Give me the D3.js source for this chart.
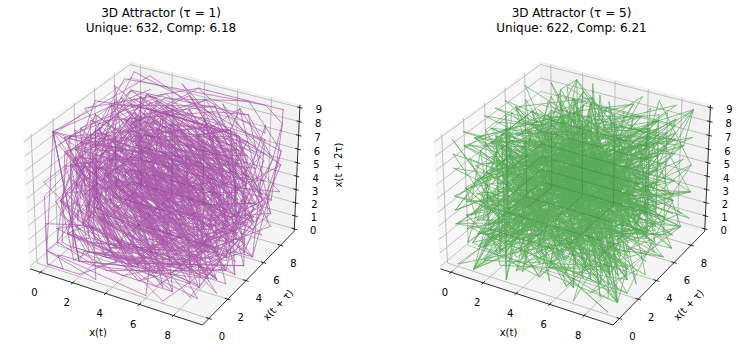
<!DOCTYPE html>
<html>
<head>
<meta charset="utf-8">
<script src="https://cdn.jsdelivr.net/npm/d3@7"></script>
<style>
body { margin: 0; background: #fff; }
text { font-family: "DejaVu Sans", sans-serif; fill: #000; }
</style>
</head>
<body>
<svg id="chart" width="740" height="352"></svg>
<script>
// digit series, x(t)
var digits = [
3,1,4,1,5,9,2,6,5,3,5,8,9,7,9,3,2,3,8,4,6,2,6,4,3,3,8,3,2,7,9,5,0,2,8,8,4,1,9,7,1,6,9,3,9,9,3,7,5,1,
0,5,8,2,0,9,7,4,9,4,4,5,9,2,3,0,7,8,1,6,4,0,6,2,8,6,2,0,8,9,9,8,6,2,8,0,3,4,8,2,5,3,4,2,1,1,7,0,6,7,
9,8,2,1,4,8,0,8,6,5,1,3,2,8,2,3,0,6,6,4,7,0,9,3,8,4,4,6,0,9,5,5,0,5,8,2,2,3,1,7,2,5,3,5,9,4,0,8,1,2,
8,4,8,1,1,1,7,4,5,0,2,8,4,1,0,2,7,0,1,9,3,8,5,2,1,1,0,5,5,5,9,6,4,4,6,2,2,9,4,8,9,5,4,9,3,0,3,8,1,9,
6,4,4,2,8,8,1,0,9,7,5,6,6,5,9,3,3,4,4,6,1,2,8,4,7,5,6,4,8,2,3,3,7,8,6,7,8,3,1,6,5,2,7,1,2,0,1,9,0,9,
1,4,5,6,4,8,5,6,6,9,2,3,4,6,0,3,4,8,6,1,0,4,5,4,3,2,6,6,4,8,2,1,3,3,9,3,6,0,7,2,6,0,2,4,9,1,4,1,2,7,
3,7,2,4,5,8,7,0,0,6,6,0,6,3,1,5,5,8,8,1,7,4,8,8,1,5,2,0,9,2,0,9,6,2,8,2,9,2,5,4,0,9,1,7,1,5,3,6,4,3,
6,7,8,9,2,5,9,0,3,6,0,0,1,1,3,3,0,5,3,0,5,4,8,8,2,0,4,6,6,5,2,1,3,8,4,1,4,6,9,5,1,9,4,1,5,1,1,6,0,9,
4,3,3,0,5,7,2,7,0,3,6,5,7,5,9,5,9,1,9,5,3,0,9,2,1,8,6,1,1,7,3,8,1,9,3,2,6,1,1,7,9,3,1,0,5,1,1,8,5,4,
8,0,7,4,4,6,2,3,7,9,9,6,2,7,4,9,5,6,7,3,5,1,8,8,5,7,5,2,7,2,4,8,9,1,2,2,7,9,3,8,1,8,3,0,1,1,9,4,9,1,
2,9,8,3,3,6,7,3,3,6,2,4,4,0,6,5,6,6,4,3,0,8,6,0,2,1,3,9,4,9,4,6,3,9,5,2,2,4,7,3,7,1,9,0,7,0,2,1,7,9,
8,6,0,9,4,3,7,0,2,7,7,0,5,3,9,2,1,7,1,7,6,2,9,3,1,7,6,7,5,2,3,8,4,6,7,4,8,1,8,4,6,7,6,6,9,4,0,5,1,3,
2,0,0,0,5,6,8,1,2,7,1,4,5,2,6,3,5,6,0,8,2,7,7,8,5,7,7,1,3,4,2,7,5,7,7,8,9,6,0,9,1,7,3,6,3,7,1,7,8,7,
2,1,4,6,8,4,4,0,9,0,1,2,2,4,9,5,3,4,3,0,1,4,6,5,4,9,5,8,5,3,7,1,0,5,0,7,9,2,2,7,9,6,8,9,2,5,8,9,2,3,
5,4,2,0,1,9,9,5,6,1,1,2,1,2,9,0,2,1,9,6,0,8,6,4,0,3,4,4,1,8,1,5,9,8,1,3,6,2,9,7,7,4,7,7,1,3,0,9,9,6,
0,5,1,8,7,0,7,2,1,1,3,4,9,9,9,9,9,9,8,3,7,2,9,7,8,0,4,9,9,5,1,0,5,9,7,3,1,7,3,2,8,1,6,0,9,6,3,1,8,5,
9,5,0,2,4,4,5,9,4,5,5,3,4,6,9,0,8,3,0,2,6,4,2,5,2,2,3,0,8,2,5,3,3,4,4,6,8,5,0,3,5,2,6,1,9,3,1,1,8,8,
1,7,1,0,1,0,0,0,3,1,3,7,8,3,8,7,5,2,8,8,6,5,8,7,5,3,3,2,0,8,3,8,1,4,2,0,6,1,7,1,7,7,6,6,9,1,4,7,3,0,
3,5,9,8,2,5,3,4,9,0,4,2,8,7,5,5,4,6,8,7,3,1,1,5,9,5,6,2,8,6,3,8,8,2,3,5,3,7,8,7,5,9,3,7,5,1,9,5,7,7,
8,1,8,5,7,7,8,0,5,3,2,1,7,1,2,2,6,8,0,6,6,1,3,0,0,1,9,2,7,8,7,6,6,1,1,1,9,5,9,0,9,2,1,6,4,2,0,1,9,8
];
var taus = [1, 5];
var uniqueCounts = [632, 622];
var complexities = ["6.18", "6.21"];
var lineColors = ["purple", "green"];
var xyTicks = [0, 2, 4, 6, 8];
var zTicks = [0, 1, 2, 3, 4, 5, 6, 7, 8, 9];

var svg = d3.select("#chart");

// view of the 3d box, same defaults as a mplot3d axes
var elev = 30 * Math.PI / 180;
var azim = -60 * Math.PI / 180;
var dist = 10;
var xyLim = [-0.45, 9.45];
var zLim = [0, 9];	// z has no margin in the reference
var xyPad = (xyLim[1] - xyLim[0]) / 48;	// panes stick out a bit past the limits
var zPad = (zLim[1] - zLim[0]) / 48;
var lo = xyLim[0] - xyPad, hi = xyLim[1] + xyPad;
var zlo = zLim[0] - zPad, zhi = zLim[1] + zPad;
var boxXY = 1.1429, boxZ = 0.8572;

var xWorld = d3.scaleLinear().domain(xyLim).range([0, boxXY]);
var zWorld = d3.scaleLinear().domain(zLim).range([0, boxZ]);

var center = [boxXY / 2, boxXY / 2, boxZ / 2];
var n = [Math.cos(elev) * Math.cos(azim), Math.cos(elev) * Math.sin(azim), Math.sin(elev)];
var right = [-Math.sin(azim), Math.cos(azim), 0];
var up = [n[1] * right[2] - n[2] * right[1], n[2] * right[0] - n[0] * right[2], n[0] * right[1] - n[1] * right[0]];

function project(x, y, z){
	var p = [xWorld(x) - center[0], xWorld(y) - center[1], zWorld(z) - center[2]];
	var depth = dist - d3.sum(p, function(d, i){ return d * n[i]; });
	return [
		d3.sum(p, function(d, i){ return d * right[i]; }) / depth,
		d3.sum(p, function(d, i){ return d * up[i]; }) / depth
	];
}

drawPanel(0, 0);
drawPanel(1, 410.5);

function drawPanel(idx, offset){
	var tau = taus[idx];
	var g = svg.append("g").attr("transform", "translate(" + offset + ",0)");

	// screen scales, pinned on the box corners
	var sx = d3.scaleLinear()
		.domain([project(lo, lo, zlo)[0], project(hi, hi, zhi)[0]])
		.range([30, 300]);
	var sy = d3.scaleLinear()
		.domain([project(hi, lo, zlo)[1], project(lo, hi, zhi)[1]])
		.range([325, 62]);

	var line = d3.line()
		.x(function(d){ var q = project(d[0], d[1], d[2]); return sx(q[0]); })
		.y(function(d){ var q = project(d[0], d[1], d[2]); return sy(q[1]); });
	function pt(x, y, z){
		var q = project(x, y, z);
		return [sx(q[0]), sy(q[1])];
	}

	// panes
	var panes = [
		{ fill: "#f2f2f2", pts: [[lo, lo, zlo], [lo, hi, zlo], [lo, hi, zhi], [lo, lo, zhi]] },
		{ fill: "#e6e6e6", pts: [[lo, hi, zlo], [hi, hi, zlo], [hi, hi, zhi], [lo, hi, zhi]] },
		{ fill: "#ececec", pts: [[lo, lo, zlo], [hi, lo, zlo], [hi, hi, zlo], [lo, hi, zlo]] }
	];
	g.selectAll(".pane").data(panes).enter().append("path")
		.attr("class", "pane")
		.attr("d", function(d){ return line(d.pts) + "Z"; })
		.attr("fill", function(d){ return d.fill; })
		.attr("fill-opacity", 0.5)
		.attr("stroke", function(d){ return d.fill; })
		.attr("stroke-opacity", 0.5);

	// grid
	var gridLines = [];
	xyTicks.forEach(function(t){
		gridLines.push([[t, lo, zlo], [t, hi, zlo], [t, hi, zhi]]);
		gridLines.push([[lo, t, zhi], [lo, t, zlo], [hi, t, zlo]]);
	});
	zTicks.forEach(function(t){
		gridLines.push([[lo, lo, t], [lo, hi, t], [hi, hi, t]]);
	});
	g.selectAll(".grid").data(gridLines).enter().append("path")
		.attr("class", "grid")
		.attr("d", line)
		.attr("fill", "none")
		.attr("stroke", "#b0b0b0")
		.attr("stroke-width", 0.8);

	// axis lines and ticks
	var axisLines = [
		[[lo, lo, zlo], [hi, lo, zlo]],
		[[hi, lo, zlo], [hi, hi, zlo]],
		[[hi, hi, zlo], [hi, hi, zhi]]
	];
	var tickLen = (xyLim[1] - xyLim[0]) / 12 * 0.2;
	xyTicks.forEach(function(t){
		axisLines.push([[t, lo - tickLen, zlo], [t, lo + tickLen, zlo]]);
		axisLines.push([[hi + tickLen, t, zlo], [hi - tickLen, t, zlo]]);
	});
	zTicks.forEach(function(t){
		axisLines.push([[hi + tickLen, hi, t], [hi - tickLen, hi, t]]);
	});
	g.selectAll(".axisline").data(axisLines).enter().append("path")
		.attr("class", "axisline")
		.attr("d", line)
		.attr("fill", "none")
		.attr("stroke", "#000")
		.attr("stroke-width", 0.8);

	// the trajectory, one group with opacity so the alpha does not pile up
	var traj = [];
	for(var t = 0; t + 2 * tau < digits.length; t++){
		traj.push([digits[t], digits[t + tau], digits[t + 2 * tau]]);
	}
	g.append("g")
		.attr("opacity", 0.62)
		.selectAll("path").data(d3.pairs(traj)).enter().append("path")
		.attr("d", line)
		.attr("fill", "none")
		.attr("stroke", lineColors[idx])
		.attr("stroke-width", 0.7)
		.attr("stroke-linecap", "round");

	// tick labels
	function label(p, dx, dy, s){
		g.append("text")
			.attr("x", p[0] + dx)
			.attr("y", p[1] + dy)
			.attr("text-anchor", "middle")
			.attr("dominant-baseline", "central")
			.attr("font-size", 10)
			.text(s);
	}
	xyTicks.forEach(function(t){
		label(pt(t, lo, zlo), -6, 20, t);
		label(pt(hi, t, zlo), 13, 18, t);
	});
	zTicks.forEach(function(t){
		label(pt(hi, hi, t), 19, 2, t);
	});

	// axis labels
	g.append("text")
		.attr("x", 98).attr("y", 332.5)
		.attr("text-anchor", "middle").attr("dominant-baseline", "central")
		.attr("font-size", 10)
		.text("x(t)");
	g.append("text")
		.attr("transform", "translate(278,305) rotate(-46)")
		.attr("text-anchor", "middle").attr("dominant-baseline", "central")
		.attr("font-size", 10)
		.text("x(t + \u03c4)");
	if(idx == 0){	// the right one falls off the figure
		g.append("text")
			.attr("transform", "translate(338,165) rotate(-90)")
			.attr("text-anchor", "middle").attr("dominant-baseline", "central")
			.attr("font-size", 10)
			.text("x(t + 2\u03c4)");
	}

	// title
	g.append("text")
		.attr("x", 161).attr("y", 17)
		.attr("text-anchor", "middle")
		.attr("font-size", 12)
		.text("3D Attractor (\u03c4 = " + tau + ")");
	g.append("text")
		.attr("x", 161).attr("y", 32)
		.attr("text-anchor", "middle")
		.attr("font-size", 12)
		.text("Unique: " + uniqueCounts[idx] + ", Comp: " + complexities[idx]);
}
</script>
</body>
</html>
